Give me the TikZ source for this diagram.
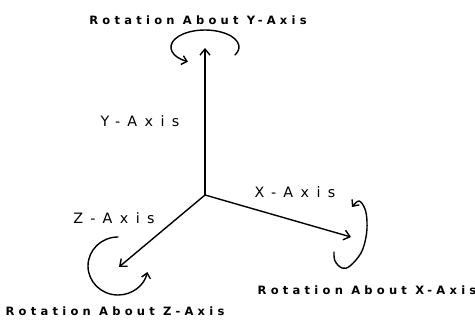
\documentclass[tikz,border=0pt]{standalone}
\usepackage{fontspec}
\setmainfont{DejaVu Sans}
\newfontfamily\axisfont[LetterSpace=52]{DejaVu Sans}
\newfontfamily\rotfont[LetterSpace=37]{DejaVu Sans Bold}
\usetikzlibrary{arrows.meta}
\begin{document}
\begin{tikzpicture}[x=1pt,y=1pt,line width=1.4pt,line cap=round,line join=round,
  axisline/.style={-{Straight Barb[length=6pt,width=10pt,line width=1.4pt]}},
  rotline/.style={-{Straight Barb[length=5pt,width=9pt,line width=1.4pt]}},
  axislabel/.style={font=\axisfont\fontsize{14.3}{14}\selectfont,inner sep=0pt},
  rotlabel/.style={font=\rotfont\fontsize{11.5}{11}\selectfont,inner sep=0pt}]
\useasboundingbox (0,0) rectangle (475,322);
% axes
\coordinate (O) at (205,127);
\coordinate (yend) at (205,274);
\coordinate (xend) at (351,85);
\coordinate (zend) at (119,55);
\draw[axisline] (O) -- (yend);
\draw[axisline] (O) -- (xend);
\draw[axisline] (O) -- (zend);
% rotation about Y
\draw[rotline] (235,267) arc[start angle=-28,end angle=240,x radius=34,y radius=17];
% rotation about X
\draw[rotline] plot[smooth,tension=0.6] coordinates {(334,70) (335,61) (342,54) (350,56) (361,69) (366,85) (367,100) (365,113) (359,121) (352,115)};
% rotation about Z
\draw[rotline] (118,85) arc[start angle=90,end angle=348,x radius=30,y radius=29];
% labels
\node[rotlabel] (roty) at (198,302) {Rotation About Y-Axis};
\node[axislabel] (ylab) at (140,201) {Y-Axis};
\node[axislabel] (xlab) at (295,130) {X-Axis};
\node[axislabel] (zlab) at (114,104) {Z-Axis};
\node[rotlabel] (rotx) at (367,32) {Rotation About X-Axis};
\node[rotlabel] (rotz) at (115,11) {Rotation About Z-Axis};
\end{tikzpicture}
\end{document}
